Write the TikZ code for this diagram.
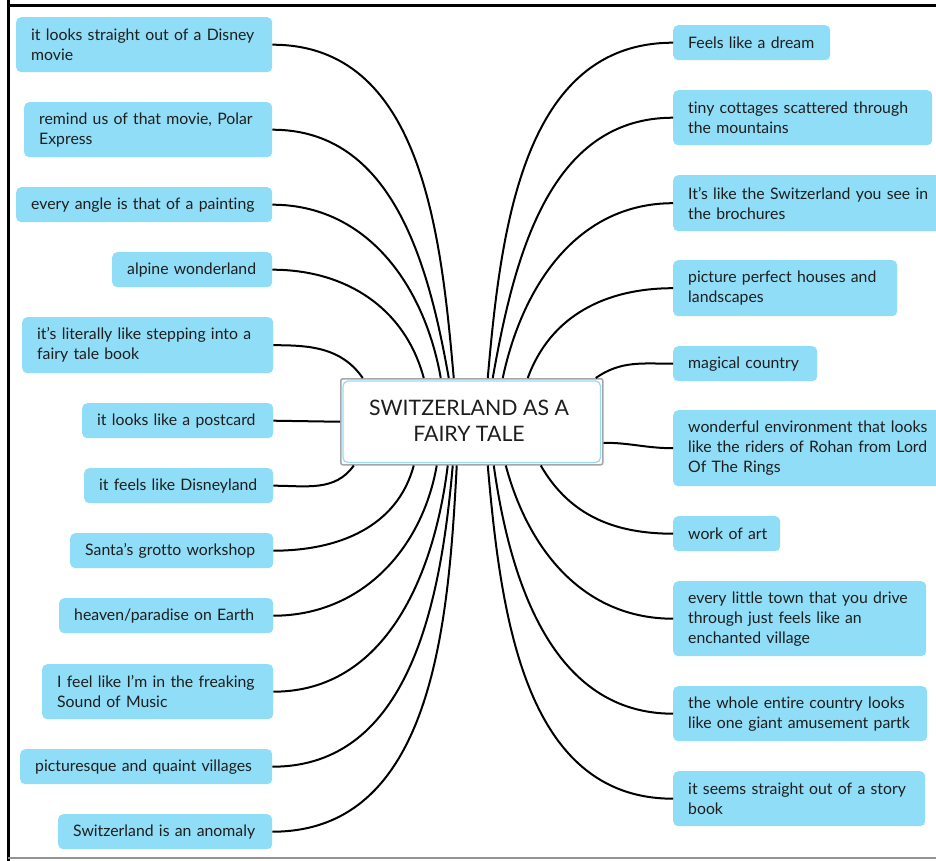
\documentclass[tikz,border=0pt]{standalone}
\usepackage{fontspec}
\setmainfont{Lato}[Ligatures={NoCommon}]
\definecolor{boxblue}{HTML}{8FDDF7}
\definecolor{txt}{HTML}{1E1E1E}
\definecolor{innerblue}{HTML}{9AD9F2}
\begin{document}
\begin{tikzpicture}[x=1pt,y=-1pt,
  idea/.style={fill=boxblue, rounded corners=5pt, anchor=north west, align=left,
    inner xsep=15pt, inner ysep=0pt, text=txt,
    font=\fontsize{15.8}{20}\selectfont},
  link/.style={line width=2pt, black}]
\clip (0,0) rectangle (936,861);
\fill[white] (0,0) rectangle (936,861);
% frame
\draw[line width=3pt, black] (8,-5) -- (8,866);
\draw[line width=3pt, black] (8,6) -- (941,6);
\draw[line width=2pt, gray!85] (8,858) -- (941,858);

% central node
\node[draw=gray!70, line width=1.5pt, rounded corners=2pt, fill=white,
      minimum width=262pt, minimum height=86pt, anchor=north west, inner sep=0pt] (c) at (340,378) {};
\draw[innerblue, line width=1.2pt, rounded corners=5pt]
  ([xshift=3pt,yshift=-3pt]c.north west) rectangle ([xshift=-3pt,yshift=3pt]c.south east);
\node[align=center, text=txt, font=\fontsize{21.3}{26}\selectfont] (ct) at (469,421) {SWITZERLAND AS A\\FAIRY TALE};

% left ideas
\node[idea, text width=226pt, minimum height=55pt] (L1) at (16,17) {it looks straight out of a Disney\\movie};
\node[idea, text width=218pt, minimum height=55pt] (L2) at (24,102) {remind us of that movie, Polar\\Express};
\node[idea, text width=226pt, minimum height=35pt] (L3) at (16,187) {every angle is that of a painting};
\node[idea, text width=130pt, minimum height=35pt] (L4) at (112,252) {alpine~wonderland};
\node[idea, text width=221pt, minimum height=56pt] (L5) at (22,317) {it's literally like stepping into a\\fairy tale book};
\node[idea, text width=161pt, minimum height=35pt] (L6) at (82,403) {it~looks~like~a~postcard};
\node[idea, text width=159pt, minimum height=35pt] (L7) at (84,468) {it~feels~like~Disneyland};
\node[idea, text width=173pt, minimum height=35pt] (L8) at (70,533) {Santa's~grotto~workshop};
\node[idea, text width=184pt, minimum height=35pt] (L9) at (59,598) {heaven/paradise~on~Earth};
\node[idea, text width=201pt, minimum height=55pt] (L10) at (42,664) {I feel like I'm in the freaking\\Sound of Music};
\node[idea, text width=222pt, minimum height=35pt] (L11) at (20,749) {picturesque~and~quaint~villages};
\node[idea, text width=184pt, minimum height=35pt] (L12) at (58,814) {Switzerland~is~an~anomaly};

% right ideas
\node[idea, text width=127pt, minimum height=35pt] (R1) at (673,25) {Feels~like~a~dream};
\node[idea, text width=229pt, minimum height=55pt] (R2) at (673,90) {tiny cottages scattered through\\the mountains};
\node[idea, text width=250pt, minimum height=56pt] (R3) at (673,175) {It's like the Switzerland you see in\\the brochures};
\node[idea, text width=194pt, minimum height=56pt] (R4) at (673,260) {picture perfect houses and\\landscapes};
\node[idea, text width=114pt, minimum height=35pt] (R5) at (673,346) {magical~country};
\node[idea, text width=250pt, minimum height=76pt] (R6) at (673,410) {wonderful environment that looks\\like the riders of Rohan from Lord\\Of The Rings};
\node[idea, text width=77pt, minimum height=35pt] (R7) at (673,516) {work~of~art};
\node[idea, text width=223pt, minimum height=75pt] (R8) at (673,581) {every little town that you drive\\through just feels like an\\enchanted village};
\node[idea, text width=224pt, minimum height=55pt] (R9) at (673,686) {the whole entire country looks\\like one giant amusement partk};
\node[idea, text width=222pt, minimum height=55pt] (R10) at (673,771) {it seems straight out of a story\\book};

% connection points on central node
\coordinate (tL1) at ([xshift=-18pt]c.north);
\coordinate (tL2) at ([xshift=-23pt]c.north);
\coordinate (tL3) at ([xshift=-31pt]c.north);
\coordinate (tL4) at ([xshift=-48pt]c.north);
\coordinate (tL5) at ([xshift=-109pt]c.north);
\coordinate (bL7) at ([xshift=-118pt]c.south);
\coordinate (bL8) at ([xshift=-58pt]c.south);
\coordinate (bL9) at ([xshift=-35pt]c.south);
\coordinate (bL10) at ([xshift=-24pt]c.south);
\coordinate (bL11) at ([xshift=-19pt]c.south);
\coordinate (bL12) at ([xshift=-15pt]c.south);
\coordinate (tR1) at ([xshift=16pt]c.north);
\coordinate (tR2) at ([xshift=21pt]c.north);
\coordinate (tR3) at ([xshift=31pt]c.north);
\coordinate (tR4) at ([xshift=56pt]c.north);
\coordinate (tR5) at ([xshift=124pt]c.north);
\coordinate (sR6) at ([yshift=-21pt]c.east);
\coordinate (bR7) at ([xshift=69pt]c.south);
\coordinate (bR8) at ([xshift=34pt]c.south);
\coordinate (bR9) at ([xshift=22pt]c.south);
\coordinate (bR10) at ([xshift=16pt]c.south);

\draw[link] (L1.east) to[out=0,in=95] (tL1);
\draw[link] (L2.east) to[out=0,in=100] (tL2);
\draw[link] (L3.east) to[out=0,in=100] (tL3);
\draw[link] (L4.east) to[out=0,in=105] (tL4);
\draw[link] (L5.east) to[out=0,in=125] (tL5);
\draw[link] (L6.east) -- (c.west);
\draw[link] (L7.east) to[out=0,in=-125] (bL7);
\draw[link] (L8.east) to[out=0,in=-105] (bL8);
\draw[link] (L9.east) to[out=0,in=-100] (bL9);
\draw[link] (L10.east) to[out=0,in=-97] (bL10);
\draw[link] (L11.east) to[out=0,in=-95] (bL11);
\draw[link] (L12.east) to[out=0,in=-93] (bL12);
\draw[link] (R1.west) to[out=180,in=85] (tR1);
\draw[link] (R2.west) to[out=180,in=80] (tR2);
\draw[link] (R3.west) to[out=180,in=78] (tR3);
\draw[link] (R4.west) to[out=180,in=70] (tR4);
\draw[link] (R5.west) to[out=180,in=35] (tR5);
\draw[link] (R6.west) to[out=180,in=0] (sR6);
\draw[link] (R7.west) to[out=180,in=-60] (bR7);
\draw[link] (R8.west) to[out=180,in=-75] (bR8);
\draw[link] (R9.west) to[out=180,in=-82] (bR9);
\draw[link] (R10.west) to[out=180,in=-85] (bR10);
\end{tikzpicture}
\end{document}
